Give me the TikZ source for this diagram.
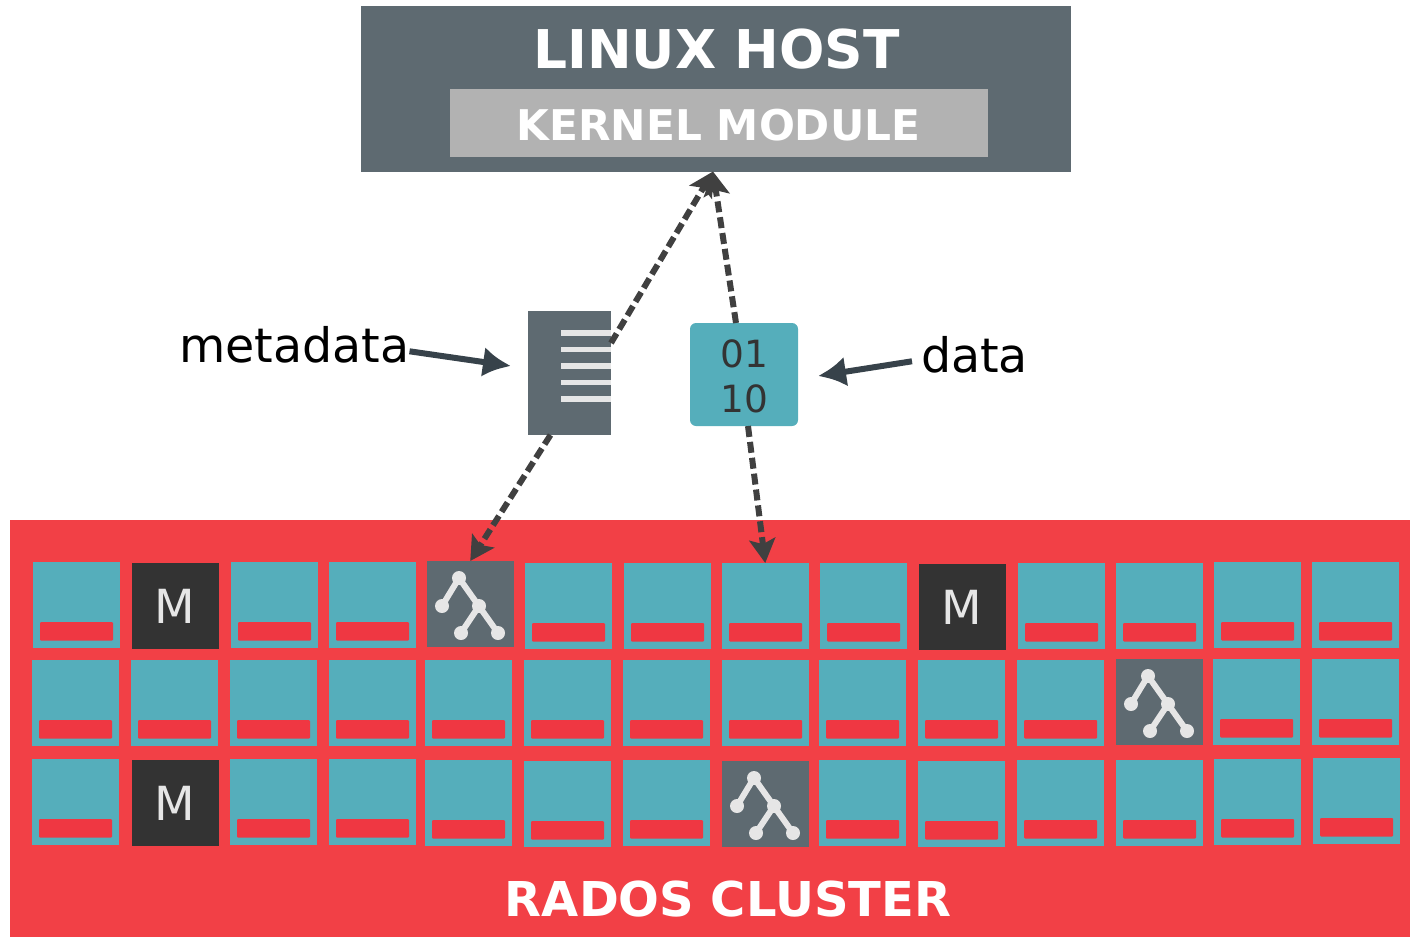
\documentclass[tikz,border=0pt]{standalone}
\usepackage{fontspec}
\setmainfont{DejaVu Sans}
\usetikzlibrary{arrows.meta,calc}
\definecolor{hostc}{HTML}{5E6A71}
\definecolor{kernc}{HTML}{B2B2B2}
\definecolor{redc}{HTML}{F24046}
\definecolor{barc}{HTML}{EF3742}
\definecolor{tealc}{HTML}{55AEBB}
\definecolor{darkc}{HTML}{333333}
\definecolor{dashc}{HTML}{404040}
\definecolor{pointc}{HTML}{37424A}
\definecolor{paleC}{HTML}{E6E6E6}
\newcommand{\fsz}[1]{\fontsize{#1}{#1}\selectfont}
\tikzset{
  x=1pt,y=-1pt,
  box/.style={anchor=north west,inner sep=0pt,outer sep=0pt,draw=none},
  cellbox/.style={box,minimum width=86.5pt,minimum height=86pt},
  flow/.style={draw=dashc,line width=6pt,dash pattern=on 11pt off 5pt,-{Stealth[length=24pt,width=26pt,inset=5pt]}},
  point/.style={draw=pointc,line width=6pt,-{Latex[length=28pt,width=30pt]}},
  lbl/.style={inner sep=0pt,outer sep=0pt,text=black,font=\fsz{47.5}}
}
\newcommand{\osd}[3]{% name, x, y
  \node[cellbox,fill=tealc] (#1) at (#2,#3) {};
  \fill[barc,rounded corners=1pt] ($(#2,#3)+(7,60)$) rectangle ($(#2,#3)+(80,78.5)$);
}
\newcommand{\mon}[3]{%
  \node[cellbox,fill=darkc,text=paleC,font=\fsz{47}] (#1) at (#2,#3) {M};
}
\newcommand{\treecell}[3]{%
  \node[cellbox,fill=hostc] (#1) at (#2,#3) {};
  \begin{scope}[shift={(#2,#3)}]
    \draw[paleC,line width=6pt] (15,45) -- (32,17) -- (71,72) (52,45) -- (34,72);
    \fill[paleC] (32,17) circle (7pt) (15,45) circle (7pt) (52,45) circle (7pt) (34,72) circle (7pt) (71,72) circle (7pt);
  \end{scope}
}
\begin{document}
\begin{tikzpicture}
\useasboundingbox (0,0) rectangle (1410,937);
\node[box,fill=hostc,minimum width=710pt,minimum height=165.5pt] (host) at (361,6) {};
\node[inner sep=0pt,text=white,font=\bfseries\fsz{53.4}] (hostt) at (716.5,49.5) {LINUX HOST};
\node[box,fill=kernc,minimum width=538pt,minimum height=68pt] (kern) at (450,89) {};
\node[inner sep=0pt,text=white,font=\bfseries\fsz{42.3}] (kernt) at (718.5,125) {KERNEL MODULE};
\node[box,fill=redc,minimum width=1400pt,minimum height=417pt] (cluster) at (10,520) {};
\node[inner sep=0pt,text=white,font=\bfseries\fsz{48}] (clustert) at (728,899) {RADOS CLUSTER};
% row 1
\osd{a1}{33}{562}\mon{a2}{132}{563}\osd{a3}{231}{562}\osd{a4}{329}{562}\treecell{a5}{427}{561}
\osd{a6}{525}{563}\osd{a7}{624}{563}\osd{a8}{722}{563}\osd{a9}{820}{563}\mon{a10}{919}{564}
\osd{a11}{1018}{563}\osd{a12}{1116}{563}\osd{a13}{1214}{562}\osd{a14}{1312}{562}
% row 2
\osd{b1}{32}{660}\osd{b2}{131}{660}\osd{b3}{230}{660}\osd{b4}{329}{660}\osd{b5}{425}{660}
\osd{b6}{524}{660}\osd{b7}{623}{660}\osd{b8}{722}{660}\osd{b9}{819}{660}\osd{b10}{918}{660}
\osd{b11}{1017}{660}\treecell{b12}{1116}{659}\osd{b13}{1213}{659}\osd{b14}{1312}{659}
% row 3
\osd{c1}{32}{759}\mon{c2}{132}{760}\osd{c3}{230}{759}\osd{c4}{329}{759}\osd{c5}{425}{760}
\osd{c6}{524}{761}\osd{c7}{623}{760}\treecell{c8}{722}{761}\osd{c9}{819}{760}\osd{c10}{918}{761}
\osd{c11}{1017}{760}\osd{c12}{1116}{760}\osd{c13}{1214}{759}\osd{c14}{1313}{758}
% metadata document
\node[box,fill=hostc,minimum width=83pt,minimum height=124pt] (doc) at (528,311) {};
\foreach \yy in {333,349.5,366,382.5,399}
  \fill[paleC] (561,\yy-2.7) rectangle (611,\yy+2.7);
% data block
\node[box,fill=tealc,minimum width=108pt,minimum height=103pt,rounded corners=6pt] (blk) at (690,323) {};
\node[inner sep=0pt,text=darkc,font=\fsz{37.5}] (b01) at (744,354) {01};
\node[inner sep=0pt,text=darkc,font=\fsz{37.5}] (b10) at (744,399) {10};
% labels
\node[lbl,anchor=base east] (meta) at (409.5,362) {metadata};
\node[lbl,anchor=base west] (data) at (921,372) {data};
% connectors
\draw[flow] ([yshift=30pt]doc.east) -- ([xshift=-3pt]host.south);
\draw[flow] ([xshift=-8pt]blk.north) -- ([xshift=-3pt]host.south);
\draw[flow] ([xshift=-19pt]doc.south) -- (a5.north);
\draw[flow] ([xshift=4pt]blk.south) -- (a8.north);
\coordinate (mtip) at (511,366);
\coordinate (dtip) at (818,376);
\draw[point] (meta.east) ++(0,7) -- (mtip);
\draw[point] ([shift={(-9,7)}]data.west) -- (dtip);
\end{tikzpicture}
\end{document}
